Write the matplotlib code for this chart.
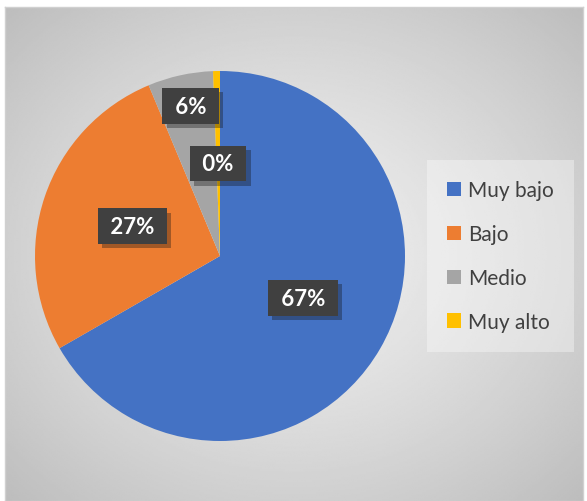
import numpy as np
import matplotlib
matplotlib.use('Agg')
import matplotlib.pyplot as plt
import matplotlib.patheffects as pe

categories = ['Muy bajo', 'Bajo', 'Medio', 'Muy alto']
values = [66.7, 27.0, 5.7, 0.6]
labels = ['67%', '27%', '6%', '0%']
colors = ['#4472C4', '#ED7D31', '#A5A5A5', '#FFC000']

plt.rcParams['font.family'] = ['Lato', 'DejaVu Sans']

fig = plt.figure(figsize=(5.87, 5.02), dpi=100)
fig.patch.set_facecolor('white')

# chart area with radial gray gradient
bg = fig.add_axes([5 / 587, 0, 578 / 587, 494 / 502])
yy, xx = np.mgrid[-1:1:300j, -1:1:300j]
rr = np.sqrt(xx ** 2 + yy ** 2) / np.sqrt(2)
shade = 0.94 - 0.2 * rr ** 1.3
bg.imshow(shade, cmap='gray', vmin=0, vmax=1, extent=[0, 1, 0, 1], aspect='auto', interpolation='bilinear')
bg.set_xlim(0, 1)
bg.set_ylim(0, 1)
bg.set_xticks([])
bg.set_yticks([])
for s in bg.spines.values():
    s.set_color('#d0d0d0')
    s.set_linewidth(1)

# pie
ax = fig.add_axes([35 / 587, 60 / 502, 370 / 587, 370 / 502])
ax.set_facecolor('none')
wedges, _ = ax.pie(values, colors=colors, startangle=90, counterclock=False,
                   radius=1, wedgeprops=dict(linewidth=0))
ax.set_xlim(-1, 1)
ax.set_ylim(-1, 1)
ax.set_aspect('equal')
ax.axis('off')

# data labels (Excel moved a couple of them a bit)
label_r = [0.5, 0.5, 0.83, 0.5]
label_dx = [0.016, 0, 0.02, 0]
label_dy = [0.023, 0, 0, 0]
for w, lab, r, dx, dy in zip(wedges, labels, label_r, label_dx, label_dy):
    ang = np.deg2rad((w.theta1 + w.theta2) / 2)
    x = r * np.cos(ang) + dx
    y = r * np.sin(ang) + dy
    t = ax.text(x, y, ' ' + lab + ' ', ha='center', va='center', color='white', fontsize=16,
                fontweight='bold',
                bbox=dict(boxstyle='square,pad=0.33', facecolor='#404040', linewidth=0))
    t.get_bbox_patch().set_path_effects([pe.SimplePatchShadow(offset=(3, -3), alpha=0.35),
                                         pe.Normal()])

leg = fig.legend(wedges, categories, loc='center left', bbox_to_anchor=(433 / 587, 1 - 257 / 502),
                 frameon=True, fontsize=15, handlelength=0.68, handleheight=0.68,
                 handletextpad=0.35, labelspacing=1.15, borderpad=0.65, borderaxespad=0)
leg.get_frame().set_facecolor('white')
leg.get_frame().set_alpha(0.35)
leg.get_frame().set_edgecolor('none')
leg.get_frame().set_boxstyle('square')
for txt in leg.get_texts():
    txt.set_color('#404040')

fig.savefig('out.png', dpi=100)
